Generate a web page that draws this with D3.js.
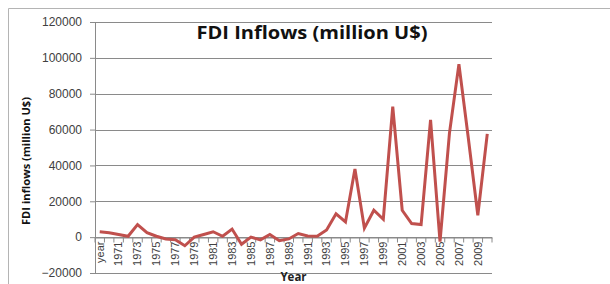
<!DOCTYPE html>
<html>
<head>
<meta charset="utf-8">
<script src="https://cdn.jsdelivr.net/npm/d3@7"></script>
<style>
  body { margin: 0; background: #fff; }
  svg { display: block; font-family: "Open Sans", "DejaVu Sans", sans-serif; }
</style>
</head>
<body>
<div id="chart-container"></div>
<script>
// categories as on the sheet (first row label is "year")
const categories = ['year', '1970', '1971', '1972', '1973', '1974', '1975', '1976', '1977', '1978',
  '1979', '1980', '1981', '1982', '1983', '1984', '1985', '1986', '1987', '1988',
  '1989', '1990', '1991', '1992', '1993', '1994', '1995', '1996', '1997', '1998',
  '1999', '2000', '2001', '2002', '2003', '2004', '2005', '2006', '2007', '2008',
  '2009', '2010'];

// FDI inflows, million U$
const fdiValues = [3000, 2500, 1500, 500, 7000, 2500, 500, -1000, -1500, -4800,
  0, 1500, 3000, 500, 4500, -4000, 0, -1500, 1500, -2000,
  -1000, 2000, 700, 500, 4000, 13000, 8500, 38000, 5000, 15000,
  10000, 72800, 15000, 7600, 7000, 65400, -2500, 58000, 96500, 55000,
  12200, 57600];

const yTicks = [-20000, 0, 20000, 40000, 60000, 80000, 100000, 120000];

const data = categories.map((c, i) => ({ cat: c, value: fdiValues[i] }));

const svg = d3.select('#chart-container')
  .append('svg')
  .attr('width', 610)
  .attr('height', 284);

// outer chart frame
svg.append('path')
  .attr('d', 'M8.5,284V8.5H610')
  .attr('fill', 'none')
  .attr('stroke', '#b4b4b4');

const margin = { top: 22, right: 118, bottom: 11, left: 95 };
const width = 610 - margin.left - margin.right;
const height = 284 - margin.top - margin.bottom;

const x = d3.scaleBand()
  .domain(categories)
  .range([0, width]);

const y = d3.scaleLinear()
  .domain([-20000, 120000])
  .range([height, 0]);

const g = svg.append('g')
  .attr('transform', `translate(${margin.left},${margin.top})`);

// gridlines
g.append('g')
  .attr('class', 'grid')
  .selectAll('line')
  .data(yTicks)
  .enter().append('line')
  .attr('x1', 0)
  .attr('x2', width)
  .attr('y1', d => Math.round(y(d)) + 0.5)
  .attr('y2', d => Math.round(y(d)) + 0.5)
  .attr('stroke', '#8a8a8a');

// y axis
const yAxis = g.append('g')
  .attr('class', 'axis axis--y')
  .call(d3.axisLeft(y).tickValues(yTicks).tickFormat(d3.format('d'))
    .tickSize(5).tickSizeOuter(0).tickPadding(8));
yAxis.select('.domain').attr('stroke', '#8a8a8a');
yAxis.selectAll('.tick line').attr('stroke', '#8a8a8a');
yAxis.selectAll('.tick text')
  .attr('fill', '#404040')
  .style('font-size', '12px');

// x axis sits at zero
const xAxis = g.append('g')
  .attr('class', 'axis axis--x')
  .attr('transform', `translate(0,${Math.round(y(0)) + 0.5})`)
  .call(d3.axisBottom(x).tickSize(5).tickSizeOuter(0)
    .tickFormat((d, i) => (i % 2 === 0 ? d : '')));
xAxis.select('.domain').attr('stroke', '#8a8a8a');
xAxis.selectAll('.tick line')
  .attr('stroke', '#8a8a8a')
  .attr('transform', `translate(${-x.step() / 2},0)`);
xAxis.append('line')
  .attr('x1', width).attr('x2', width)
  .attr('y1', 0).attr('y2', 5)
  .attr('stroke', '#8a8a8a');
xAxis.selectAll('.tick text')
  .attr('transform', 'rotate(-90)')
  .attr('text-anchor', 'end')
  .attr('x', -4)
  .attr('y', 0)
  .attr('dy', '0.35em')
  .attr('fill', '#404040')
  .style('font-size', '11px');

// series line
const line = d3.line()
  .x(d => x(d.cat) + x.bandwidth() / 2)
  .y(d => y(d.value));

g.append('path')
  .datum(data)
  .attr('fill', 'none')
  .attr('stroke', '#c0504d')
  .attr('stroke-width', 3)
  .attr('stroke-linejoin', 'miter')
  .attr('d', line);

// titles
svg.append('text')
  .attr('x', 312)
  .attr('y', 39)
  .attr('text-anchor', 'middle')
  .attr('textLength', 231)
  .attr('lengthAdjust', 'spacingAndGlyphs')
  .style('font-size', '18px')
  .style('font-weight', 'bold')
  .attr('fill', '#111')
  .text('FDI Inflows (million U$)');

svg.append('text')
  .attr('transform', 'translate(30,161) rotate(-90)')
  .attr('text-anchor', 'middle')
  .attr('textLength', 128)
  .attr('lengthAdjust', 'spacingAndGlyphs')
  .style('font-size', '10px')
  .style('font-weight', 'bold')
  .attr('fill', '#111')
  .text('FDI inflows (million  U$)');

svg.append('text')
  .attr('x', margin.left + width / 2)
  .attr('y', 281)
  .attr('text-anchor', 'middle')
  .style('font-size', '11.5px')
  .style('font-weight', 'bold')
  .attr('fill', '#222')
  .text('Year');
</script>
</body>
</html>
